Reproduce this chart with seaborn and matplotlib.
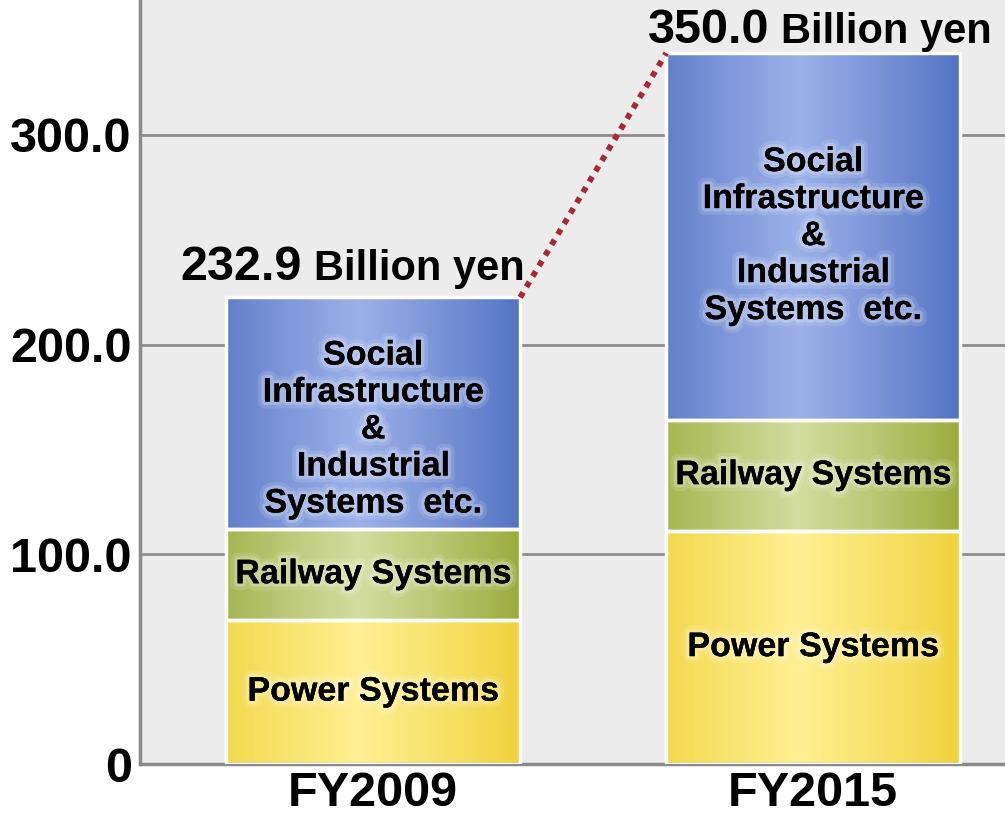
import numpy as np
import pandas as pd
import matplotlib
matplotlib.use("Agg")
import matplotlib.pyplot as plt
import matplotlib.patheffects as pe
import seaborn as sns

# valores (bilhões de ienes)
years = ['FY2009', 'FY2015']
power = [68.5, 111.0]
railway = [43.5, 53.0]
social = [110.5, 175.0]
total_labels = ['232.9', '350.0']
segment_names = ['Power Systems', 'Railway Systems',
                 'Social\nInfrastructure\n&\nIndustrial\nSystems  etc.']
ytick_values = [0, 100, 200, 300]
ytick_labels = ['0', '100.0', '200.0', '300.0']

# cores das bordas e do centro dos gradientes
grad_colors = {
    'Power Systems': ('#f0d23c', '#fff092'),
    'Railway Systems': ('#9aab3c', '#d3dd9f'),
    'Social': ('#5272c3', '#9cb1e8'),
}

sns.set_style("white")
plt.rcParams['font.family'] = ['Liberation Sans', 'DejaVu Sans']
plt.rcParams['text.color'] = 'black'
plt.rcParams['xtick.color'] = 'black'
plt.rcParams['ytick.color'] = 'black'

fig = plt.figure(figsize=(10.05, 8.16), dpi=100)
ax = fig.add_axes([140 / 1005, 52 / 816, 1 - 140 / 1005, 1 - 52 / 816])
ax.set_facecolor('#ececec')

df = pd.DataFrame({'year': years, 'power': power, 'railway': railway, 'social': social})
bottoms = [np.zeros(len(years)), np.array(power), np.array(power) + np.array(railway)]
cols = ['power', 'railway', 'social']
keys = ['Power Systems', 'Railway Systems', 'Social']

bar_w = 0.668
for col, bottom in zip(cols, bottoms):
    sns.barplot(data=df, x='year', y=col, bottom=bottom, width=bar_w,
                color='white', edgecolor='white', linewidth=2.5, ax=ax, zorder=2)

# gradiente horizontal em cada barra
t = np.linspace(0, 1, 256)
prof = np.clip(1 - np.abs(t - 0.45) / 0.55, 0, 1) ** 0.9
patches = list(ax.patches)
for i, p in enumerate(patches):
    key = keys[i // len(years)]
    c_edge = np.array(matplotlib.colors.to_rgb(grad_colors[key][0]))
    c_mid = np.array(matplotlib.colors.to_rgb(grad_colors[key][1]))
    img = c_edge[None, :] + (c_mid - c_edge)[None, :] * prof[:, None]
    img = img[None, :, :]
    x0, y0 = p.get_x(), p.get_y()
    w, h = p.get_width(), p.get_height()
    ax.imshow(img, extent=[x0, x0 + w, y0, y0 + h], aspect='auto',
              zorder=2.5, interpolation='bilinear')
    p.set_facecolor('none')
    p.set_zorder(3)

glow = [pe.withStroke(linewidth=10, foreground=(1, 1, 1, 0.12)),
        pe.withStroke(linewidth=5, foreground=(1, 1, 1, 0.22))]

# rótulos dentro das barras
label_shift = [[0, 0, -8], [0, 0, 0]]
for i in range(len(years)):
    bases = [bottoms[k][i] for k in range(3)]
    heights = [power[i], railway[i], social[i]]
    for k in range(3):
        yc = bases[k] + heights[k] / 2 + label_shift[i][k]
        ax.text(i, yc, segment_names[k], ha='center', va='center',
                fontsize=24.5, fontweight='bold', color='black',
                linespacing=1.25, zorder=5, path_effects=glow)

# totais acima das barras
totals = [power[i] + railway[i] + social[i] for i in range(len(years))]
split_dx = [-66, -39]
base_dy = [17, 10]
for i in range(len(years)):
    ax.annotate(total_labels[i], xy=(i, totals[i]), xytext=(split_dx[i] - 5, base_dy[i]),
                textcoords='offset pixels', ha='right', va='baseline',
                fontsize=35, fontweight='bold', zorder=6, annotation_clip=False)
    ax.annotate('Billion yen', xy=(i, totals[i]), xytext=(split_dx[i] + 7, base_dy[i]),
                textcoords='offset pixels', ha='left', va='baseline',
                fontsize=30, fontweight='bold', zorder=6, annotation_clip=False)

# linha pontilhada ligando os topos
ax.plot([0 + bar_w / 2, 1 - bar_w / 2], totals, color='#a8283a', lw=4.2,
        linestyle=(0, (1, 1.1)), zorder=4, solid_capstyle='butt')

ax.set_xlim(-0.53, 1.436)
ax.set_ylim(0, 364.3)
ax.set_yticks(ytick_values)
ax.set_yticklabels(ytick_labels)
ax.yaxis.grid(True, color='#8c8c8c', lw=2)
ax.set_axisbelow(True)
ax.tick_params(axis='both', length=0, labelsize=35, colors='black')
ax.tick_params(axis='y', pad=6)
ax.tick_params(axis='x', pad=5)
for lab in ax.get_xticklabels() + ax.get_yticklabels():
    lab.set_fontweight('bold')
ax.set_xlabel('')
ax.set_ylabel('')
sns.despine(ax=ax, top=True, right=True)
for s in ['left', 'bottom']:
    ax.spines[s].set_color('#8a8a8a')
    ax.spines[s].set_linewidth(2.5)

fig.savefig('out.png', dpi=100)
